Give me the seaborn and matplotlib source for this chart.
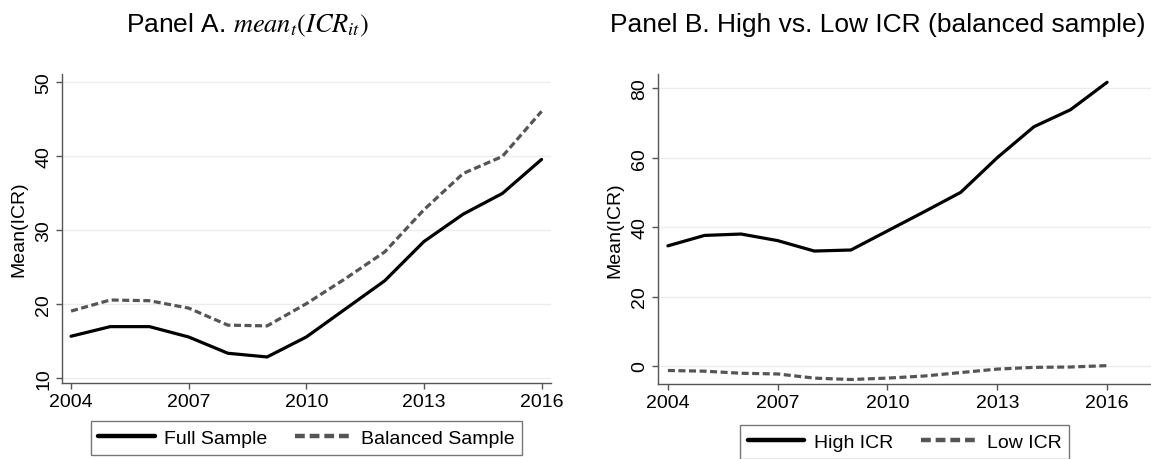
"Two panel line chart: mean ICR over time"
import numpy as np
import pandas as pd
import matplotlib as mpl
mpl.use("Agg")
from matplotlib import pyplot as plt
import seaborn as sns

years = list(range(2004, 2017))

# Panel A
full_sample = [15.6, 16.9, 16.9, 15.5, 13.3, 12.8, 15.5, 19.3, 23.1, 28.4, 32.1, 34.9, 39.5]
balanced_sample = [19.0, 20.5, 20.4, 19.4, 17.1, 17.0, 20.0, 23.4, 27.0, 32.7, 37.6, 39.9, 46.0]

# Panel B
high_icr = [34.6, 37.6, 38.0, 36.1, 33.1, 33.4, 38.9, 44.4, 50.0, 60.0, 68.9, 73.8, 81.7]
low_icr = [-1.3, -1.5, -2.1, -2.3, -3.5, -3.9, -3.5, -2.9, -1.9, -0.9, -0.4, -0.3, 0.1]

x_ticks = [2004, 2007, 2010, 2013, 2016]
y_ticks_a = [10, 20, 30, 40, 50]
y_ticks_b = [0, 20, 40, 60, 80]

sns.set_theme(style="white")
plt.rcParams['font.family'] = ['Liberation Sans', 'DejaVu Sans']
plt.rcParams['mathtext.fontset'] = 'stix'
plt.rcParams['text.color'] = 'black'
plt.rcParams['axes.labelcolor'] = 'black'

DASH_GRAY = '#555555'
AXIS_GRAY = '#555555'
FS = 14


def style_axes(ax, yticks, ylim, xlim):
    ax.set_xlim(*xlim)
    ax.set_ylim(*ylim)
    ax.set_xticks(x_ticks)
    ax.set_yticks(yticks)
    ax.set_yticklabels([str(t) for t in yticks], rotation=90, va='center')
    ax.tick_params(axis='both', labelsize=FS, length=4, width=1, color=AXIS_GRAY,
                   labelcolor='black', direction='out', bottom=True, left=True, pad=3)
    ax.yaxis.grid(True, color='#ececec', linewidth=1)
    ax.xaxis.grid(False)
    for side in ['top', 'right']:
        ax.spines[side].set_visible(False)
    for side in ['left', 'bottom']:
        ax.spines[side].set_color(AXIS_GRAY)
        ax.spines[side].set_linewidth(1)
    ax.set_xlabel('')
    ax.set_ylabel('Mean(ICR)', fontsize=FS, labelpad=6, color='black')


fig = plt.figure(figsize=(11.51, 4.6), dpi=100)
ax_a = fig.add_axes([0.0539, 0.1652, 0.4248, 0.6717])
ax_b = fig.add_axes([0.5717, 0.163, 0.4283, 0.674])

df_a = pd.DataFrame({'year': years, 'full': full_sample, 'balanced': balanced_sample})
sns.lineplot(data=df_a, x='year', y='full', ax=ax_a, color='black', linewidth=2.3,
             label='Full Sample')
sns.lineplot(data=df_a, x='year', y='balanced', ax=ax_a, color=DASH_GRAY, linewidth=2.3,
             linestyle=(0, (2.2, 1.1)), label='Balanced Sample')
style_axes(ax_a, y_ticks_a, (9.28, 51.04), (2003.77, 2016.24))

df_b = pd.DataFrame({'year': years, 'high': high_icr, 'low': low_icr})
sns.lineplot(data=df_b, x='year', y='high', ax=ax_b, color='black', linewidth=2.3,
             label='High ICR')
sns.lineplot(data=df_b, x='year', y='low', ax=ax_b, color=DASH_GRAY, linewidth=2.3,
             linestyle=(0, (2.2, 1.1)), label='Low ICR')
style_axes(ax_b, y_ticks_b, (-5.2, 84.1), (2003.73, 2017.2))

for ax, anchor in [(ax_a, (0.2663, 0.0457)), (ax_b, (0.786, 0.037))]:
    leg = ax.legend(loc='center', bbox_to_anchor=anchor, bbox_transform=fig.transFigure,
                    ncol=2, fontsize=FS, frameon=True, fancybox=False,
                    handlelength=2.9, handletextpad=0.5, columnspacing=1.4,
                    borderpad=0.4, borderaxespad=0)
    leg.get_frame().set_edgecolor(AXIS_GRAY)
    leg.get_frame().set_linewidth(1)
    for line in leg.get_lines():
        line.set_linewidth(3.2)
    for txt in leg.get_texts():
        txt.set_color('black')

fig.text(0.2146, 0.945, r'Panel A. $mean_t(ICR_{it})$', ha='center', va='center', fontsize=19)
fig.text(0.763, 0.945, 'Panel B. High vs. Low ICR (balanced sample)', ha='center', va='center',
         fontsize=19)

plt.savefig('out.png', dpi=100)
plt.clf()
